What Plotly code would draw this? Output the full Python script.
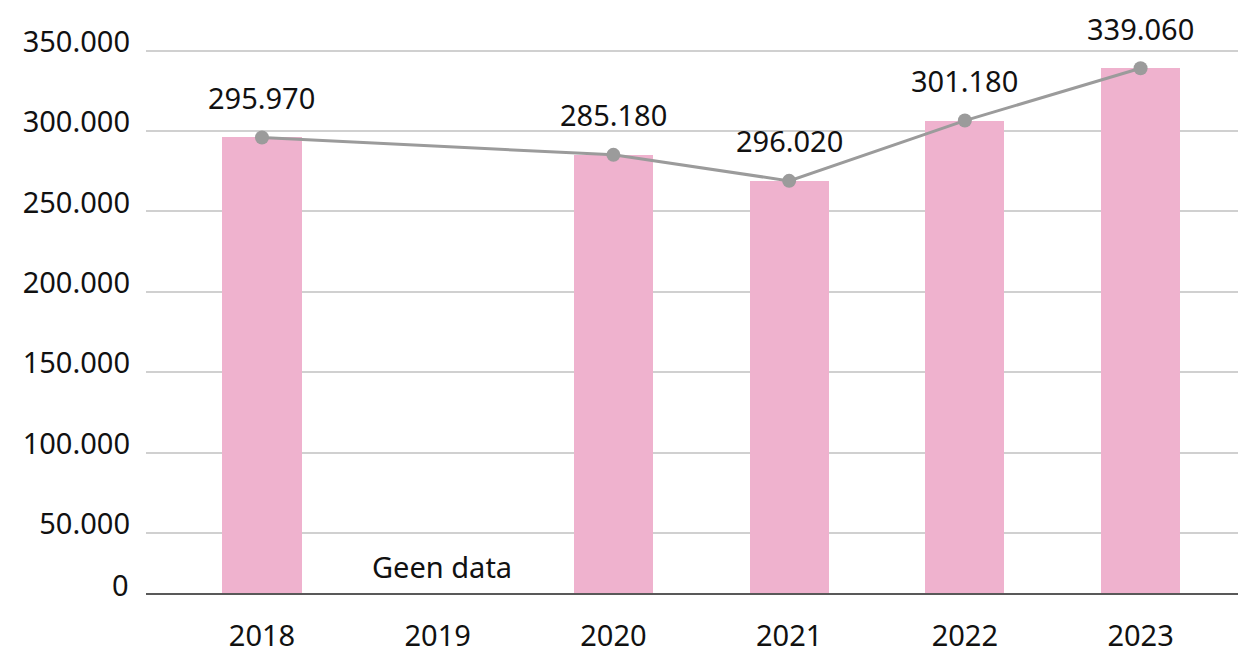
import plotly.graph_objects as go

# data
years = ["2018", "2019", "2020", "2021", "2022", "2023"]
bar_values = [295970, None, 285180, 269000, 306500, 339060]
line_values = [295970, None, 285180, 269000, 306500, 339060]
point_labels = ["295.970", "", "285.180", "296.020", "301.180", "339.060"]
y_ticks = [50000, 100000, 150000, 200000, 250000, 300000, 350000]
y_ticklabels = ["50.000", "100.000", "150.000", "200.000", "250.000", "300.000", "350.000"]
no_data_year = "2019"
no_data_text = "Geen data"

FONT = "Noto Sans"
TEXT_COLOR = "#111111"
FONT_SIZE = 29

fig = go.Figure()

fig.add_trace(go.Bar(
    x=years,
    y=bar_values,
    width=0.45,
    marker=dict(color="#EFB2CE", line=dict(width=0)),
    hoverinfo="skip",
))

fig.add_trace(go.Scatter(
    x=years,
    y=line_values,
    mode="lines+markers",
    connectgaps=True,
    line=dict(color="#9B9B9B", width=3),
    marker=dict(color="#9B9B9B", size=14),
    hoverinfo="skip",
))

# value labels above each point (category axis -> use the index as x)
for i, (val, lab) in enumerate(zip(line_values, point_labels)):
    if val is None:
        continue
    fig.add_annotation(
        x=i, y=val, text=lab, showarrow=False,
        yshift=40, yanchor="middle",
        font=dict(family=FONT, size=FONT_SIZE, color=TEXT_COLOR),
    )

fig.add_annotation(
    x=years.index(no_data_year), xref="x", y=0, yref="paper", text=no_data_text,
    showarrow=False, yanchor="middle", yshift=27, xshift=4,
    font=dict(family=FONT, size=FONT_SIZE, color=TEXT_COLOR),
)

# the "0" label sits on the axis line
fig.add_annotation(
    x=0, xref="paper", y=0, yref="paper", text="0",
    showarrow=False, xanchor="right", yanchor="middle",
    xshift=-15, yshift=9,
    font=dict(family=FONT, size=FONT_SIZE, color=TEXT_COLOR),
)

# page body adds an 8px margin, so the figure is 8px smaller than the window
fig.update_layout(
    width=1238,
    height=642,
    margin=dict(l=138, r=0, t=0, b=57),
    paper_bgcolor="white",
    plot_bgcolor="white",
    showlegend=False,
    bargap=0,
    font=dict(family=FONT, size=FONT_SIZE, color=TEXT_COLOR),
)

fig.update_xaxes(
    type="category",
    range=[-0.66, 5.6],
    automargin=False,
    showgrid=False,
    showline=True,
    linecolor="#595959",
    linewidth=2,
    ticks="",
    ticklabelstandoff=16,
    tickfont=dict(family=FONT, size=FONT_SIZE, color=TEXT_COLOR),
)

fig.update_yaxes(
    range=[12700, 376500],
    tickvals=y_ticks,
    ticktext=y_ticklabels,
    automargin=False,
    showgrid=True,
    gridcolor="#D0D0D0",
    gridwidth=2,
    zeroline=False,
    showline=False,
    ticks="",
    ticklabelstandoff=15,
    ticklabelshift=-9,
    tickfont=dict(family=FONT, size=FONT_SIZE, color=TEXT_COLOR),
)

fig.write_html("out.html")
